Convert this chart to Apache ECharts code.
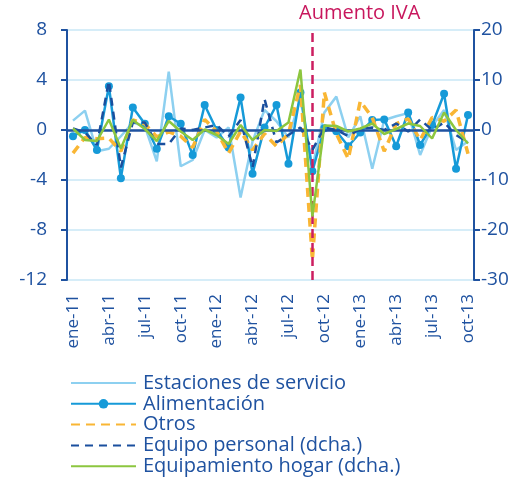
<!DOCTYPE html>
<html>
<head>
<meta charset="utf-8">
<script src="https://cdn.jsdelivr.net/npm/echarts@6/dist/echarts.min.js"></script>
<style>
html,body{margin:0;padding:0;background:#fff;}
#c{width:531px;height:478px;}
</style>
</head>
<body>
<div id="c"></div>
<script>
const categories = ['ene-11','feb-11','mar-11','abr-11','may-11','jun-11','jul-11','ago-11','sep-11','oct-11','nov-11','dic-11',
  'ene-12','feb-12','mar-12','abr-12','may-12','jun-12','jul-12','ago-12','sep-12','oct-12','nov-12','dic-12',
  'ene-13','feb-13','mar-13','abr-13','may-13','jun-13','jul-13','ago-13','sep-13','oct-13'];

const estaciones = [0.75,1.55,-1.7,-1.5,-0.5,0.6,0.3,-2.5,4.67,-2.9,-2.4,0.0,-0.6,0.2,-5.4,-0.9,1.6,0.7,-0.6,2.5,-3.0,1.4,2.67,-0.6,1.1,-3.1,0.8,1.1,1.35,-2.0,0.3,1.6,-1.6,-0.9];
const alimentacion = [-0.5,0.0,-1.6,3.5,-3.85,1.8,0.5,-1.5,1.1,0.5,-2.0,2.0,0.0,-1.4,2.6,-3.5,0.2,2.0,-2.7,3.0,-3.3,0.15,-0.1,-1.3,-0.2,0.8,0.85,-1.3,1.4,-1.2,0.4,2.9,-3.1,1.2];
const otros = [-1.85,-0.6,-0.7,-0.65,-1.7,0.8,0.5,-0.55,-0.15,-0.5,-1.4,0.85,-0.1,-1.85,-0.1,-1.6,-0.3,-1.3,-0.3,3.6,-10.4,3.0,-0.3,-2.3,2.3,1.0,-1.7,0.5,0.9,-0.8,1.0,0.7,1.6,-1.9];
const equipoPersonal = [0.3,-0.5,-3.0,9.8,-7.5,1.5,1.5,-2.8,-2.8,0.3,0.0,0.5,1.0,-1.3,2.0,-7.5,6.2,-2.5,-1.0,0.5,-4.0,0.5,0.0,-1.2,0.2,0.5,0.0,1.3,-0.3,2.1,0.0,1.5,-1.0,-2.5];
const equipamientoHogar = [0.3,-2.0,-2.2,2.1,-3.7,2.0,0.2,-2.2,1.8,-0.3,-2.0,0.1,-1.0,-2.8,1.0,-2.0,0.0,-0.2,1.5,12.1,-17.3,0.9,0.8,-0.3,0.3,1.3,-0.8,0.2,1.3,0.8,-1.7,3.5,0.0,-2.7];

const leftTicks = {min:-12, max:8, interval:4};
const rightTicks = {min:-30, max:20, interval:10};
const ivaMonth = 'sep-12';

const navy = '#1f52a0';
const font = 'Open Sans';
const hideDot = {opacity:0};

const chart = echarts.init(document.getElementById('c'));
chart.setOption({
  animation:false,
  textStyle:{fontFamily:font},
  title:{text:'Aumento IVA', left:299, top:3, padding:0,
    textStyle:{fontSize:20, fontWeight:'normal', color:'#c8175d', fontFamily:font}},
  grid:{left:67, right:57, top:30, bottom:198},
  legend:{
    orient:'vertical', left:70, top:373, height:300, padding:0, itemWidth:65, itemHeight:12, itemGap:0.8,
    itemStyle:{},
    textStyle:{fontSize:20, lineHeight:18, color:navy, fontFamily:font, padding:[0,0,0,2]},
    data:[
      {name:'Estaciones de servicio', itemStyle:hideDot},
      {name:'Alimentación'},
      {name:'Otros', itemStyle:hideDot},
      {name:'Equipo personal (dcha.)', itemStyle:hideDot},
      {name:'Equipamiento hogar (dcha.)', itemStyle:hideDot}
    ]
  },
  xAxis:{
    type:'category', data:categories, boundaryGap:true,
    axisLine:{show:false}, axisTick:{show:false},
    axisLabel:{rotate:90, fontSize:17, color:navy, margin:14,
      interval:function(i){return i%3===0;}},
    splitLine:{show:false}
  },
  yAxis:[
    {type:'value', position:'left', min:leftTicks.min, max:leftTicks.max, interval:leftTicks.interval,
     axisLine:{show:true, lineStyle:{color:navy, width:2}},
     axisTick:{show:true, length:6, lineStyle:{color:navy, width:2}},
     axisLabel:{fontSize:19, color:navy, margin:20},
     splitLine:{show:true, lineStyle:{color:'#c8e7f6', width:1.5}}},
    {type:'value', position:'right', min:rightTicks.min, max:rightTicks.max, interval:rightTicks.interval,
     axisLine:{show:true, lineStyle:{color:navy, width:2}},
     axisTick:{show:true, length:6, lineStyle:{color:navy, width:2}},
     axisLabel:{fontSize:19, color:navy, margin:7},
     splitLine:{show:false}}
  ],
  series:[
    {name:'zero', type:'line', data:[], z:1, silent:true,
     markLine:{silent:true, symbol:'none', label:{show:false},
       lineStyle:{color:navy, width:2.5, type:'solid'}, data:[{yAxis:0}]}},
    {name:'Estaciones de servicio', type:'line', yAxisIndex:0, data:estaciones, z:2,
     symbol:'none', lineStyle:{color:'#8dd0f0', width:2.5}, itemStyle:{color:'#8dd0f0'}},
    {name:'Alimentación', type:'line', yAxisIndex:0, data:alimentacion, z:3,
     symbol:'circle', symbolSize:8, showSymbol:true, showAllSymbol:true,
     lineStyle:{color:'#169ad8', width:2.5}, itemStyle:{color:'#169ad8'}},
    {name:'Otros', type:'line', yAxisIndex:0, data:otros, z:4, symbol:'none',
     lineStyle:{color:'#f9b634', width:3.5, type:[9,6]}, itemStyle:{color:'#f9b634'}},
    {name:'Equipo personal (dcha.)', type:'line', yAxisIndex:1, data:equipoPersonal, z:5, symbol:'none',
     lineStyle:{color:'#1a4f9e', width:2.5, type:[8,6]}, itemStyle:{color:'#1a4f9e'}},
    {name:'Equipamiento hogar (dcha.)', type:'line', yAxisIndex:1, data:equipamientoHogar, z:6, symbol:'none',
     lineStyle:{color:'#8cc63f', width:2.5}, itemStyle:{color:'#8cc63f'}},
    {name:'iva', type:'line', data:[], z:10, silent:true,
     markLine:{silent:true, symbol:'none', label:{show:false},
       lineStyle:{color:'#cc1e60', width:2.5, type:[9,5]}, data:[{xAxis:ivaMonth}]}}
  ]
});
</script>
</body>
</html>
